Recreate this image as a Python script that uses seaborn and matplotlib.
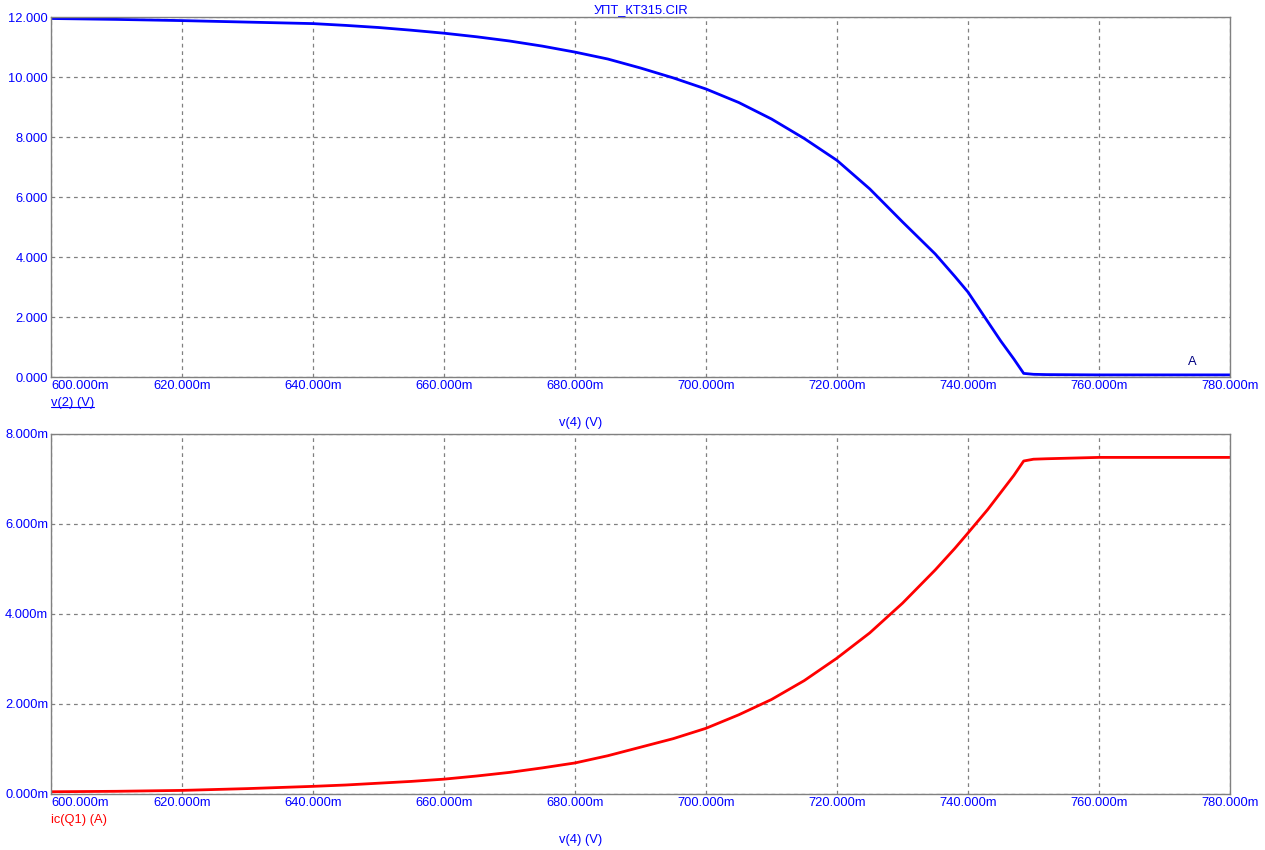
import pandas as pd
import matplotlib.pyplot as plt
from matplotlib.lines import Line2D
import seaborn as sns

# sweep of v(4), in mV
v4_mv = [600, 610, 620, 630, 640, 645, 650, 655, 660, 665, 670, 675, 680, 685, 690, 695,
         700, 705, 710, 715, 720, 725, 730, 735, 738, 740, 743, 745, 747, 748.5,
         750, 752, 760, 770, 780]
# v(2), volts
v2 = [11.95, 11.92, 11.88, 11.83, 11.78, 11.72, 11.65, 11.56, 11.46, 11.34, 11.2, 11.03,
      10.83, 10.6, 10.3, 9.97, 9.6, 9.15, 8.6, 7.95, 7.22, 6.27, 5.17, 4.1, 3.35, 2.83,
      1.85, 1.2, 0.6, 0.12, 0.09, 0.08, 0.07, 0.07, 0.07]
# ic(Q1), mA
ic_ma = [0.05, 0.06, 0.08, 0.12, 0.17, 0.2, 0.24, 0.28, 0.33, 0.4, 0.48, 0.58, 0.69,
         0.85, 1.04, 1.23, 1.46, 1.76, 2.1, 2.52, 3.02, 3.58, 4.24, 4.98, 5.46, 5.8,
         6.32, 6.7, 7.08, 7.4, 7.44, 7.45, 7.48, 7.48, 7.48]

df = pd.DataFrame({"v4": v4_mv, "v2": v2, "ic": ic_ma})

sns.set_style("white")
plt.rcParams["font.family"] = ["Liberation Sans", "DejaVu Sans"]
plt.rcParams["font.size"] = 9.3

BLUE = "#0000ff"
GRID = "#808080"
FS = 9.3

fig = plt.figure(figsize=(12.65, 8.5), dpi=100)
ax1 = fig.add_axes([51 / 1265, 1 - 377 / 850, 1179 / 1265, 360 / 850])
ax2 = fig.add_axes([51 / 1265, 1 - 794 / 850, 1179 / 1265, 360 / 850])

sns.lineplot(data=df, x="v4", y="v2", ax=ax1, color="#0000ff", linewidth=2)
sns.lineplot(data=df, x="v4", y="ic", ax=ax2, color="#ff0000", linewidth=2)

xt = list(range(600, 781, 20))
for ax, ymax, yfmt in [(ax1, 12, "{:.3f}"), (ax2, 8, "{:.3f}m")]:
    ax.set_xlim(600, 780)
    ax.set_ylim(0, ymax)
    ax.set_xticks(xt)
    ax.set_xticklabels([f"{v:.3f}m" for v in xt])
    yt = list(range(0, ymax + 1, 2))
    ax.set_yticks(yt)
    ax.set_yticklabels([yfmt.format(v) for v in yt])
    ax.grid(True, color=GRID, linestyle=(0, (3, 3)), linewidth=0.9)
    ax.tick_params(length=0, pad=2, labelcolor=BLUE, labelsize=FS)
    for s in ax.spines.values():
        s.set_color(GRID)
        s.set_linewidth(1)
    ax.set_xlabel("")
    ax.set_ylabel("")
    ax.get_xticklabels()[0].set_ha("left")

ax1.set_title("УПТ_КТ315.CIR", color=BLUE, fontsize=FS, pad=3)
ax1.text(774.2, 0.3, "A", color="#000080", fontsize=FS, ha="center", va="bottom")

# x axis captions
for ax in (ax1, ax2):
    ax.text(0.449, -0.11, "v(4) (V)", transform=ax.transAxes, color=BLUE,
            ha="center", va="top", fontsize=FS)

# y captions under the x tick labels
t1 = ax1.text(0.0, -0.055, "v(2) (V)", transform=ax1.transAxes, color=BLUE,
              ha="left", va="top", fontsize=FS)
ax2.text(0.0, -0.055, "ic(Q1) (A)", transform=ax2.transAxes, color="#ff0000",
         ha="left", va="top", fontsize=FS)

fig.canvas.draw()
bb = t1.get_window_extent().transformed(fig.transFigure.inverted())
fig.add_artist(Line2D([bb.x0, bb.x1], [bb.y0 + 0.002, bb.y0 + 0.002],
                      transform=fig.transFigure, color=BLUE, linewidth=0.8))

fig.savefig("out.png", dpi=100)
plt.close(fig)
